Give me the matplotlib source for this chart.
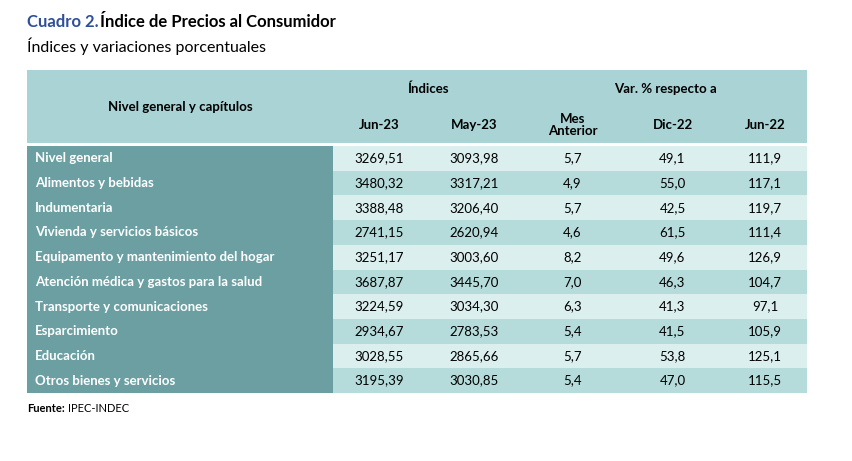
import matplotlib
matplotlib.use("Agg")
import matplotlib.pyplot as plt
from matplotlib.patches import Rectangle

categories = ["Nivel general", "Alimentos y bebidas", "Indumentaria", "Vivienda y servicios básicos",
              "Equipamento y mantenimiento del hogar", "Atención médica y gastos para la salud",
              "Transporte y comunicaciones", "Esparcimiento", "Educación", "Otros bienes y servicios"]
jun23 = ["3269,51", "3480,32", "3388,48", "2741,15", "3251,17", "3687,87", "3224,59", "2934,67", "3028,55", "3195,39"]
may23 = ["3093,98", "3317,21", "3206,40", "2620,94", "3003,60", "3445,70", "3034,30", "2783,53", "2865,66", "3030,85"]
mes_ant = ["5,7", "4,9", "5,7", "4,6", "8,2", "7,0", "6,3", "5,4", "5,7", "5,4"]
dic22 = ["49,1", "55,0", "42,5", "61,5", "49,6", "46,3", "41,3", "41,5", "53,8", "47,0"]
jun22 = ["111,9", "117,1", "119,7", "111,4", "126,9", "104,7", "97,1", "105,9", "125,1", "115,5"]
col_labels = ["Jun-23", "May-23", "Mes\nAnterior", "Dic-22", "Jun-22"]

plt.rcParams['font.family'] = ['Lato', 'DejaVu Sans']
fig = plt.figure(figsize=(8.53, 4.61), dpi=100)
ax = fig.add_axes([0, 0, 1, 1])
ax.set_xlim(0, 853); ax.set_ylim(461, 0); ax.axis('off')

HDR = "#a9d3d4"; LEFT = "#6b9fa2"; LIGHT = "#dcefef"; MED = "#b5dbdb"
x0, x1 = 27, 807
cols = [333, 425, 523, 622, 723, 807]

ax.text(27, 22, "Cuadro 2.", color="#2e4f9a", fontsize=12, weight='bold', va='center')
ax.text(100, 22, "Índice de Precios al Consumidor", color="black", fontsize=12, weight='bold', va='center')
ax.text(27, 46, "Índices y variaciones porcentuales", color="black", fontsize=11.5, va='center')

# header
ax.add_patch(Rectangle((x0, 70), x1 - x0, 73, color=HDR, lw=0))
ax.plot([333, 523], [69.5, 69.5], color="white", lw=1.5)
ax.text(180, 107, "Nivel general y capítulos", fontsize=9.5, weight='bold', ha='center', va='center')
ax.text((cols[0] + cols[2]) / 2, 89, "Índices", fontsize=9.5, weight='bold', ha='center', va='center')
ax.text((cols[2] + cols[5]) / 2, 89, "Var. % respecto a", fontsize=9.5, weight='bold', ha='center', va='center')
for i, lab in enumerate(col_labels):
    ax.text((cols[i] + cols[i + 1]) / 2, 125, lab, fontsize=9.5, weight='bold', ha='center', va='center',
            linespacing=1.0)

# rows
top, bot = 146, 393
h = (bot - top) / len(categories)
data = [jun23, may23, mes_ant, dic22, jun22]
for r, cat in enumerate(categories):
    y = top + r * h
    ax.add_patch(Rectangle((x0, y), cols[0] - x0, h, color=LEFT, lw=0))
    ax.add_patch(Rectangle((cols[0], y), x1 - cols[0], h, color=LIGHT if r % 2 == 0 else MED, lw=0))
    ax.text(35, y + h / 2, cat, color="white", fontsize=9.5, weight='bold', va='center')
    for c in range(5):
        ax.text((cols[c] + cols[c + 1]) / 2, y + h / 2, data[c][r], fontsize=9.5, ha='center', va='center')

ax.text(27, 408, "Fuente:", fontsize=8, weight='bold', va='center')
ax.text(68, 408, "IPEC-INDEC", fontsize=8, va='center')

fig.savefig("out.png", dpi=100)
